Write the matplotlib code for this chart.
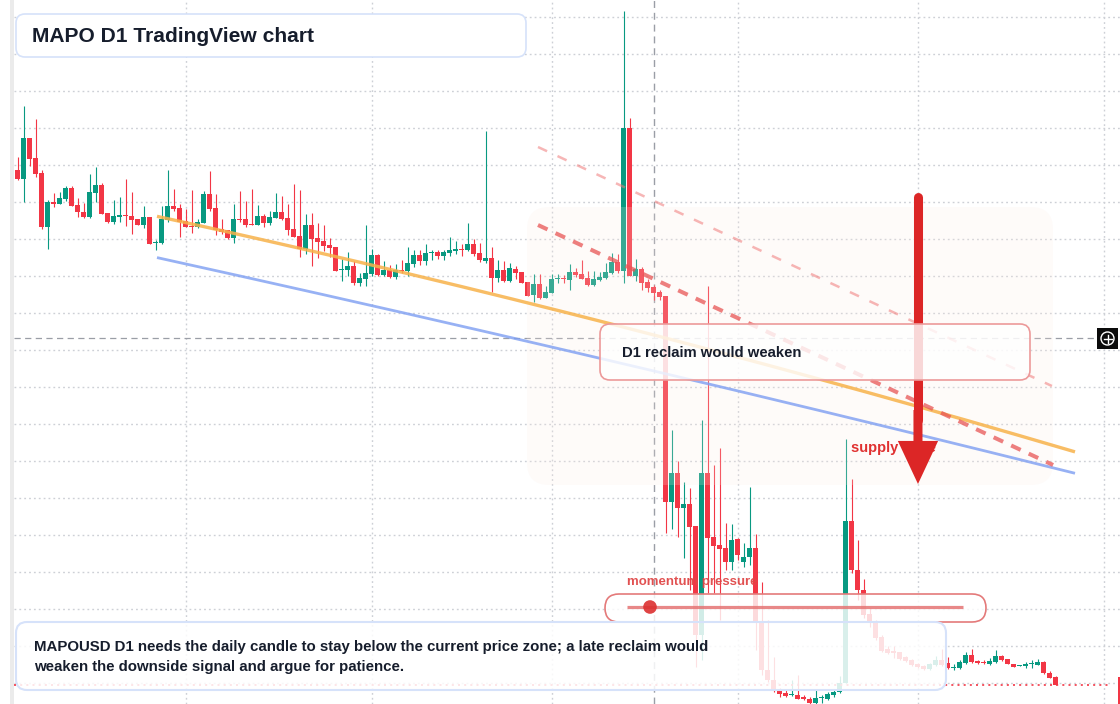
import numpy as np
import matplotlib
matplotlib.use("Agg")
import matplotlib.pyplot as plt
from matplotlib.patches import FancyBboxPatch, Rectangle, Circle, FancyArrowPatch, ArrowStyle
from matplotlib.transforms import Affine2D

# ---------------- data (MAPOUSD daily candles) ----------------
opens = [
    0.0630, 0.0621, 0.0662, 0.0642, 0.0627, 0.0573, 0.0598, 0.0596, 0.0601, 0.0612,
    0.0595, 0.0588, 0.0583, 0.0607, 0.0615, 0.0587, 0.0578, 0.0583, 0.0585, 0.0584,
    0.0581, 0.0575, 0.0583, 0.0557, 0.0557, 0.0580, 0.0594, 0.0592, 0.0579, 0.0574,
    0.0573, 0.0577, 0.0606, 0.0592, 0.0571, 0.0570, 0.0562, 0.0581, 0.0581, 0.0576,
    0.0575, 0.0584, 0.0577, 0.0582, 0.0588, 0.0582, 0.0571, 0.0564, 0.0551, 0.0575,
    0.0562, 0.0559, 0.0555, 0.0553, 0.0530, 0.0530, 0.0534, 0.0517, 0.0521, 0.0526,
    0.0545, 0.0525, 0.0530, 0.0523, 0.0530, 0.0529, 0.0536, 0.0545, 0.0539, 0.0547,
    0.0548, 0.0544, 0.0547, 0.0549, 0.0551, 0.0550, 0.0556, 0.0547, 0.0539, 0.0542,
    0.0522, 0.0530, 0.0519, 0.0531, 0.0528, 0.0518, 0.0505, 0.0516, 0.0502, 0.0507,
    0.0521, 0.0522, 0.0520, 0.0528, 0.0526, 0.0522, 0.0515, 0.0520, 0.0522, 0.0527,
    0.0538, 0.0529, 0.0672, 0.0524, 0.0531, 0.0518, 0.0513, 0.0508, 0.0504, 0.0298,
    0.0327, 0.0292, 0.0296, 0.0274, 0.0165, 0.0327, 0.0263, 0.0255, 0.0252, 0.0238,
    0.0261, 0.0238, 0.0243, 0.0252, 0.0178, 0.0130, 0.0120, 0.0109, 0.0107, 0.0105,
    0.0105, 0.0103, 0.0101, 0.0097, 0.0102, 0.0101, 0.0105, 0.0108, 0.0117, 0.0279,
    0.0230, 0.0210, 0.0186, 0.0177, 0.0163, 0.0151, 0.0149, 0.0148, 0.0143, 0.0140,
    0.0136, 0.0134, 0.0131, 0.0135, 0.0140, 0.0137, 0.0132, 0.0132, 0.0137, 0.0145,
    0.0139, 0.0138, 0.0136, 0.0138, 0.0144, 0.0141, 0.0136, 0.0134, 0.0134, 0.0136,
    0.0135, 0.0138, 0.0127, 0.0123]

highs = [
    0.0643, 0.0694, 0.0662, 0.0681, 0.0630, 0.0600, 0.0607, 0.0608, 0.0614, 0.0614,
    0.0602, 0.0597, 0.0626, 0.0633, 0.0617, 0.0587, 0.0600, 0.0603, 0.0621, 0.0608,
    0.0581, 0.0594, 0.0583, 0.0560, 0.0594, 0.0630, 0.0611, 0.0596, 0.0591, 0.0610,
    0.0581, 0.0609, 0.0629, 0.0606, 0.0581, 0.0570, 0.0596, 0.0609, 0.0599, 0.0611,
    0.0595, 0.0586, 0.0589, 0.0607, 0.0604, 0.0596, 0.0616, 0.0610, 0.0586, 0.0587,
    0.0577, 0.0575, 0.0562, 0.0553, 0.0541, 0.0548, 0.0539, 0.0527, 0.0575, 0.0551,
    0.0546, 0.0539, 0.0535, 0.0536, 0.0540, 0.0553, 0.0550, 0.0550, 0.0556, 0.0550,
    0.0550, 0.0550, 0.0563, 0.0559, 0.0556, 0.0577, 0.0561, 0.0557, 0.0669, 0.0553,
    0.0540, 0.0539, 0.0537, 0.0534, 0.0528, 0.0518, 0.0526, 0.0526, 0.0514, 0.0526,
    0.0526, 0.0525, 0.0536, 0.0532, 0.0540, 0.0529, 0.0529, 0.0528, 0.0537, 0.0547,
    0.0546, 0.0789, 0.0682, 0.0541, 0.0533, 0.0521, 0.0515, 0.0510, 0.0504, 0.0370,
    0.0339, 0.0318, 0.0312, 0.0274, 0.0380, 0.0514, 0.0335, 0.0352, 0.0277, 0.0276,
    0.0262, 0.0257, 0.0313, 0.0266, 0.0218, 0.0180, 0.0143, 0.0112, 0.0110, 0.0120,
    0.0125, 0.0105, 0.0103, 0.0110, 0.0105, 0.0108, 0.0110, 0.0124, 0.0361, 0.0321,
    0.0260, 0.0221, 0.0192, 0.0180, 0.0165, 0.0154, 0.0154, 0.0148, 0.0144, 0.0141,
    0.0137, 0.0135, 0.0137, 0.0144, 0.0151, 0.0143, 0.0136, 0.0140, 0.0148, 0.0151,
    0.0140, 0.0140, 0.0142, 0.0150, 0.0145, 0.0141, 0.0136, 0.0135, 0.0138, 0.0140,
    0.0141, 0.0139, 0.0129, 0.0124]

lows = [
    0.0620, 0.0598, 0.0634, 0.0623, 0.0571, 0.0551, 0.0593, 0.0596, 0.0599, 0.0594,
    0.0583, 0.0582, 0.0582, 0.0598, 0.0586, 0.0577, 0.0576, 0.0578, 0.0574, 0.0566,
    0.0575, 0.0572, 0.0556, 0.0550, 0.0556, 0.0578, 0.0589, 0.0563, 0.0573, 0.0567,
    0.0572, 0.0577, 0.0589, 0.0565, 0.0566, 0.0561, 0.0557, 0.0578, 0.0573, 0.0575,
    0.0575, 0.0573, 0.0575, 0.0582, 0.0580, 0.0565, 0.0563, 0.0543, 0.0546, 0.0534,
    0.0542, 0.0549, 0.0543, 0.0529, 0.0519, 0.0524, 0.0515, 0.0514, 0.0514, 0.0524,
    0.0524, 0.0524, 0.0522, 0.0521, 0.0527, 0.0524, 0.0533, 0.0535, 0.0535, 0.0540,
    0.0541, 0.0540, 0.0544, 0.0546, 0.0544, 0.0549, 0.0544, 0.0538, 0.0537, 0.0508,
    0.0518, 0.0518, 0.0518, 0.0521, 0.0517, 0.0504, 0.0498, 0.0501, 0.0502, 0.0507,
    0.0517, 0.0517, 0.0510, 0.0523, 0.0521, 0.0514, 0.0514, 0.0519, 0.0521, 0.0526,
    0.0527, 0.0517, 0.0524, 0.0519, 0.0510, 0.0508, 0.0500, 0.0500, 0.0267, 0.0271,
    0.0263, 0.0242, 0.0210, 0.0133, 0.0140, 0.0207, 0.0207, 0.0180, 0.0230, 0.0230,
    0.0240, 0.0233, 0.0235, 0.0150, 0.0125, 0.0118, 0.0108, 0.0103, 0.0103, 0.0104,
    0.0101, 0.0100, 0.0096, 0.0096, 0.0097, 0.0100, 0.0103, 0.0107, 0.0117, 0.0227,
    0.0200, 0.0182, 0.0173, 0.0160, 0.0148, 0.0146, 0.0142, 0.0140, 0.0138, 0.0134,
    0.0132, 0.0130, 0.0130, 0.0134, 0.0134, 0.0131, 0.0130, 0.0131, 0.0136, 0.0137,
    0.0136, 0.0136, 0.0135, 0.0137, 0.0139, 0.0136, 0.0133, 0.0134, 0.0132, 0.0132,
    0.0135, 0.0126, 0.0122, 0.0115]

closes = [
    0.0621, 0.0662, 0.0641, 0.0626, 0.0573, 0.0598, 0.0596, 0.0602, 0.0612, 0.0594,
    0.0588, 0.0583, 0.0608, 0.0615, 0.0586, 0.0578, 0.0584, 0.0585, 0.0584, 0.0580,
    0.0575, 0.0583, 0.0556, 0.0558, 0.0581, 0.0594, 0.0591, 0.0578, 0.0573, 0.0573,
    0.0578, 0.0606, 0.0591, 0.0570, 0.0568, 0.0562, 0.0581, 0.0580, 0.0575, 0.0575,
    0.0584, 0.0577, 0.0583, 0.0588, 0.0581, 0.0570, 0.0563, 0.0551, 0.0575, 0.0561,
    0.0558, 0.0554, 0.0552, 0.0529, 0.0531, 0.0534, 0.0517, 0.0522, 0.0527, 0.0545,
    0.0525, 0.0530, 0.0523, 0.0530, 0.0529, 0.0537, 0.0545, 0.0539, 0.0547, 0.0548,
    0.0544, 0.0548, 0.0550, 0.0551, 0.0550, 0.0556, 0.0546, 0.0540, 0.0542, 0.0522,
    0.0530, 0.0519, 0.0532, 0.0527, 0.0517, 0.0504, 0.0516, 0.0502, 0.0508, 0.0521,
    0.0522, 0.0521, 0.0528, 0.0525, 0.0521, 0.0515, 0.0521, 0.0523, 0.0528, 0.0538,
    0.0529, 0.0672, 0.0524, 0.0531, 0.0517, 0.0512, 0.0507, 0.0503, 0.0298, 0.0327,
    0.0292, 0.0296, 0.0273, 0.0165, 0.0327, 0.0262, 0.0254, 0.0251, 0.0238, 0.0260,
    0.0245, 0.0243, 0.0252, 0.0178, 0.0130, 0.0120, 0.0110, 0.0106, 0.0104, 0.0106,
    0.0101, 0.0101, 0.0097, 0.0102, 0.0103, 0.0106, 0.0108, 0.0117, 0.0279, 0.0230,
    0.0210, 0.0185, 0.0177, 0.0162, 0.0149, 0.0147, 0.0147, 0.0141, 0.0139, 0.0135,
    0.0133, 0.0131, 0.0136, 0.0140, 0.0135, 0.0132, 0.0133, 0.0138, 0.0145, 0.0138,
    0.0137, 0.0137, 0.0139, 0.0144, 0.0140, 0.0136, 0.0133, 0.0135, 0.0136, 0.0137,
    0.0138, 0.0127, 0.0122, 0.0115]

# month boundaries (candle index) used as vertical grid
month_start_idx = [28, 59, 89, 120, 150, 181]

# drawn trend curves: anchor points (candle index, price)
orange_idx = [23.25, 50.42, 103.75, 147.08, 176.25]
orange_px = [0.0583, 0.0548, 0.0469, 0.0397, 0.0349]
blue_idx = [23.25, 42.58, 103.75, 147.08, 176.25]
blue_px = [0.0540, 0.0520, 0.0432, 0.0368, 0.0328]
# dashed resistance lines
dash_main_idx = [86.75, 172.6]
dash_main_px = [0.0575, 0.0335]
dash_upper_idx = [86.75, 172.4]
dash_upper_px = [0.0653, 0.0414]
# arrow (candle index, start price, end price)
arrow_idx = 150.08
arrow_top = 0.0603
arrow_tip = 0.0316
crosshair_idx = 106
crosshair_price = 0.0462

title = "MAPO D1 TradingView chart"
reclaim_label = "D1 reclaim would weaken"
supply_label = "supply zone"
momentum_label = "momentum pressure"
note_lines = ["MAPOUSD D1 needs the daily candle to stay below the current price zone; a late reclaim would",
              "weaken the downside signal and argue for patience."]

# ---------------- figure ----------------
W, H, DPI = 1120, 704, 100
fig = plt.figure(figsize=(W / DPI, H / DPI), dpi=DPI)
ax = fig.add_axes([0, 0, 1, 1])
XMIN, XMAX = -2.9167, 183.75
YMIN, YMAX = 0.0096, 0.0800
ax.set_xlim(XMIN, XMAX)
ax.set_ylim(YMIN, YMAX)
ax.axis('off')
pix = Affine2D().scale(1, -1).translate(0, H)   # top-left pixel coordinates

FONT = ['Liberation Sans', 'DejaVu Sans']
TXT = '#161d2c'
GREEN, RED = '#089981', '#f23645'

# left strip
ax.add_patch(Rectangle((10, 0), 4, H, transform=pix, color='#ebebeb', zorder=0.2, lw=0))

# grid
x_left = -0.583
grid_prices = np.arange(0.01167, 0.0800, 0.0037)
ax.hlines(grid_prices, x_left, XMAX, colors='#cdd0d6', lw=1.0, linestyles=(0, (1.3, 2.2)), zorder=0.5)
ax.vlines(month_start_idx, YMIN, YMAX, colors='#cdd0d6', lw=1.0, linestyles=(0, (1.3, 2.2)), zorder=0.5)

# crosshair
ax.vlines([crosshair_idx], YMIN, YMAX, colors='#9a9ea6', lw=1.0, linestyles=(0, (5, 3.5)), zorder=0.8)
ax.hlines([crosshair_price], x_left, 179.9, colors='#9a9ea6', lw=0.9, linestyles=(0, (5, 3.5)), zorder=0.8)

# candles
o = np.array(opens); h = np.array(highs); l = np.array(lows); c = np.array(closes)
idx = np.arange(len(o))
up = c >= o
cols = np.where(up, GREEN, RED)
ax.vlines(idx, l, h, colors=cols, lw=0.8, zorder=2)
bottoms = np.minimum(o, c)
heights = np.maximum(np.abs(c - o), 0.00011)
ax.bar(idx, heights, bottom=bottoms, width=0.83, color=cols, lw=0, zorder=2.1)

# last price line
ax.hlines([closes[-1]], x_left, 182.0, colors='#f23645', lw=1.2, linestyles=(0, (1.2, 2.5)), zorder=2.2)

# peach zone
ax.add_patch(FancyBboxPatch((527, 207), 526, 278, boxstyle="round,pad=0,rounding_size=22",
                            transform=pix, fc='#fdece4', ec='none', alpha=0.2, zorder=3))

# trend curves
xs_o = np.linspace(orange_idx[0], orange_idx[-1], 200)
ax.plot(xs_o, np.polyval(np.polyfit(orange_idx, orange_px, 2), xs_o), color='#f7b24a', alpha=0.85,
        lw=2.4, solid_capstyle='butt', zorder=4)
xs_b = np.linspace(blue_idx[0], blue_idx[-1], 200)
ax.plot(xs_b, np.polyval(np.polyfit(blue_idx, blue_px, 2), xs_b), color='#7d9ef2', alpha=0.8,
        lw=2.0, solid_capstyle='butt', zorder=4)
ax.plot(dash_upper_idx, dash_upper_px, color='#f07a7a', alpha=0.55, lw=1.8,
        dashes=(4.0, 4.6), zorder=4)
ax.plot(dash_main_idx, dash_main_px, color='#e85555', alpha=0.75, lw=2.9,
        dashes=(2.6, 2.2), zorder=4)

# supply zone text (under arrow)
ax.text(851, 448, supply_label, transform=pix, ha='left', va='center', color='#e03131',
        fontsize=10.5, fontweight='bold', family=FONT, zorder=5)

# big arrow
ax.plot([arrow_idx, arrow_idx], [arrow_top, 0.0380], color='#dc2626', lw=6.5,
        solid_capstyle='round', zorder=6)
ax.add_patch(FancyArrowPatch((arrow_idx, 0.0390), (arrow_idx, arrow_tip),
                             arrowstyle=ArrowStyle.Simple(head_length=31, head_width=29, tail_width=6.5),
                             mutation_scale=1, color='#dc2626', lw=0, shrinkA=0, shrinkB=0, zorder=6))

# D1 reclaim box
ax.add_patch(FancyBboxPatch((600, 324), 430, 56, boxstyle="round,pad=0,rounding_size=10",
                            transform=pix, fc=(1, 1, 1, 0.82), ec='#ec9a9a', lw=1.2, zorder=7))
ax.text(622, 353, reclaim_label, transform=pix, ha='left', va='center', color=TXT,
        fontsize=10.7, fontweight='bold', family=FONT, zorder=7.5)

# momentum pill
ax.add_patch(FancyBboxPatch((605, 594), 381, 28, boxstyle="round,pad=0,rounding_size=14",
                            transform=pix, fc=(1, 1, 1, 0.82), ec='#e47a7a', lw=1.2, zorder=7))
ax.plot([627, 963], [607, 607], transform=pix, color='#e57373', alpha=0.85, lw=2.3,
        solid_capstyle='butt', zorder=7.2)
ax.add_patch(Circle((650, 607), 6.8, transform=pix, color='#dc3030', alpha=0.9, lw=0, zorder=7.3))
ax.text(627, 582, momentum_label, transform=pix, ha='left', va='center', color='#e04848',
        fontsize=9.5, fontweight='bold', family=FONT, alpha=0.95, zorder=7.5)

# bottom note box
ax.add_patch(FancyBboxPatch((16, 622), 930, 68, boxstyle="round,pad=0,rounding_size=11",
                            transform=pix, fc=(1, 1, 1, 0.85), ec='#d6e2fa', lw=1.5, zorder=8))
ax.text(34, 647, note_lines[0], transform=pix, ha='left', va='center', color=TXT,
        fontsize=10.8, fontweight='bold', family=FONT, zorder=8.5)
ax.text(34, 667, note_lines[1], transform=pix, ha='left', va='center', color=TXT,
        fontsize=10.8, fontweight='bold', family=FONT, zorder=8.5)

# title box
ax.add_patch(FancyBboxPatch((16, 14), 510, 43, boxstyle="round,pad=0,rounding_size=9",
                            transform=pix, fc='white', ec='#d6e2fa', lw=1.2, zorder=9))
ax.text(32, 36, title, transform=pix, ha='left', va='center', color=TXT,
        fontsize=15.1, fontweight='bold', family=FONT, zorder=9.5)

# crosshair "+" button on the price scale
ax.add_patch(Rectangle((1097, 328), 21, 21, transform=pix, color='#0b0b0b', lw=0, zorder=9))
ax.add_patch(Circle((1107.5, 338.5), 6.5, transform=pix, fc='none', ec='white', lw=1.0, zorder=9.2))
ax.plot([1103.5, 1111.5], [338.5, 338.5], transform=pix, color='white', lw=1.0, zorder=9.3)
ax.plot([1107.5, 1107.5], [334.5, 342.5], transform=pix, color='white', lw=1.0, zorder=9.3)

# small price-scale marker at bottom right
ax.add_patch(Rectangle((1118, 677), 2, 27, transform=pix, color='#f23645', lw=0, zorder=9))

fig.savefig("out.png", dpi=DPI)
